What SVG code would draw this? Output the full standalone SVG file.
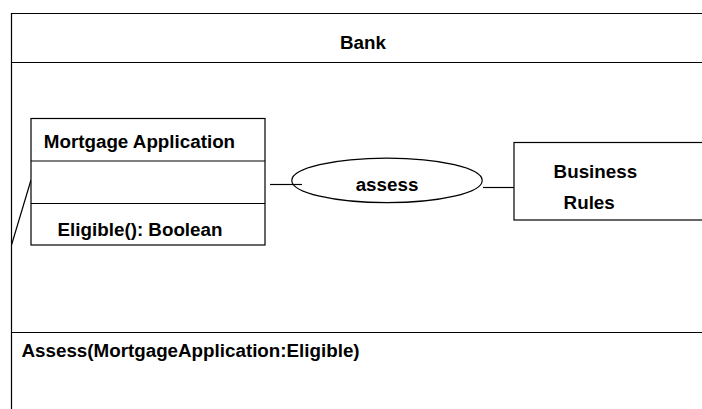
<svg xmlns="http://www.w3.org/2000/svg" width="702" height="409" viewBox="0 0 702 409">
  <style>
    .ln { stroke: #000; stroke-width: 1.2; fill: none; }
    .box { stroke: #000; stroke-width: 1.2; fill: #fff; }
    .t { font-family: "Liberation Sans", Arial, sans-serif; font-weight: bold; font-size: 18.8px; fill: #000; }
  </style>
  <rect width="702" height="409" fill="#fff"/>

  <!-- Bank swimlane frame -->
  <g id="bank-frame">
    <path class="ln" d="M11.5,409 V13.5 H702 M11.5,62.5 H702 M11.5,332.5 H702"/>
    <text class="t" x="363" y="49.3" text-anchor="middle">Bank</text>
    <text class="t" x="21.5" y="357.3">Assess(MortgageApplication:Eligible)</text>
  </g>

  <!-- Connectors -->
  <g id="connectors">
    <line class="ln" x1="31" y1="180" x2="11.5" y2="245"/>
    <line class="ln" x1="270" y1="184.5" x2="302" y2="184.5"/>
    <line class="ln" x1="483" y1="187.5" x2="514" y2="187.5"/>
  </g>

  <!-- Mortgage Application class -->
  <g id="mortgage-application">
    <rect class="box" x="31" y="118.5" width="234" height="126.5"/>
    <line class="ln" x1="31" y1="161" x2="265" y2="161"/>
    <line class="ln" x1="31" y1="203.5" x2="265" y2="203.5"/>
    <text class="t" x="43.8" y="147.7">Mortgage Application</text>
    <text class="t" x="57.6" y="236">Eligible(): Boolean</text>
  </g>

  <!-- assess use case -->
  <g id="assess">
    <ellipse class="ln" cx="387" cy="180.4" rx="95.2" ry="22.3"/>
    <text class="t" x="387" y="190.7" text-anchor="middle">assess</text>
  </g>

  <!-- Business Rules -->
  <g id="business-rules">
    <rect class="box" x="514" y="142.5" width="200" height="77.5"/>
    <text class="t" x="553.6" y="177.7">Business</text>
    <text class="t" x="563.6" y="209">Rules</text>
  </g>
</svg>
